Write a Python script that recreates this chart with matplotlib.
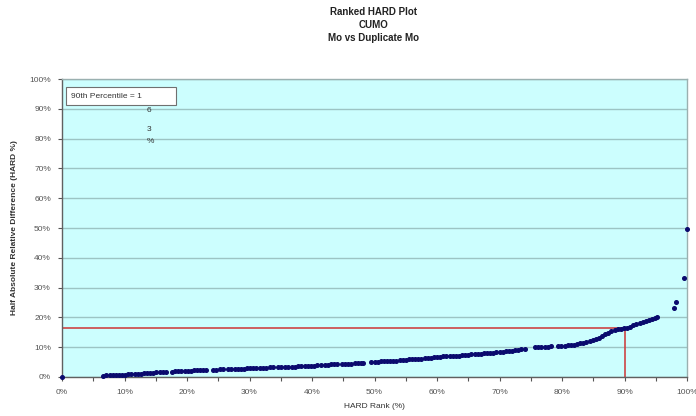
import numpy as np
import matplotlib
matplotlib.use("Agg")
import matplotlib.pyplot as plt
from matplotlib.patches import Rectangle
from matplotlib.ticker import FixedLocator, FuncFormatter

plt.rcParams['font.family'] = ['Liberation Sans', 'DejaVu Sans']

# =========================================================
# DATA
# =========================================================
TITLE = "Ranked HARD Plot\nCUMO\nMo vs Duplicate Mo"
X_LABEL = "HARD Rank (%)"
Y_LABEL = "Half Absolute Relative Difference (HARD %)"

hard_rank = [
    0.0,
    6.6, 7.1, 7.6, 8.1, 8.6, 9.1, 9.6, 10.1, 10.6, 11.1, 11.6, 12.1, 12.6, 13.1, 13.6, 14.1, 14.6,
    15.1, 15.6, 16.1, 16.6,
    17.6, 18.1, 18.6, 19.1, 19.6, 20.1, 20.6, 21.1, 21.6, 22.1, 22.6, 23.1,
    24.2, 24.7, 25.2, 25.8,
    26.6, 27.1, 27.6, 28.1, 28.6, 29.1, 29.6, 30.1, 30.6, 31.1, 31.7,
    32.2, 32.7, 33.2, 33.8,
    34.6, 35.1, 35.6, 36.2,
    36.8, 37.3, 37.8, 38.3, 38.8, 39.3, 39.8, 40.3, 40.8,
    41.5, 42.0, 42.5, 43.0, 43.5, 44.0,
    44.8, 45.3, 45.8, 46.3, 46.8, 47.3, 47.8, 48.2,
    49.5, 50.0, 50.5, 51.0, 51.5, 52.0, 52.5, 53.0, 53.5, 54.0,
    54.5, 55.0, 55.5, 56.0, 56.5, 57.0, 57.5, 58.0, 58.5, 59.0,
    59.5, 60.0, 60.5, 61.0, 61.5, 62.0, 62.5, 63.0, 63.5, 64.0,
    64.5, 65.0, 65.5, 66.0, 66.5, 67.0, 67.5, 68.0, 68.5, 69.0,
    69.5, 70.0, 70.5, 71.0, 71.5, 72.0, 72.5, 73.0, 73.5, 74.0,
    75.7, 76.2, 76.7, 77.2, 77.7, 78.2,
    79.4, 79.9, 80.4, 80.9, 81.4, 81.9, 82.4, 82.9, 83.4, 83.9,
    84.4, 84.9, 85.4, 85.9, 86.4, 86.9, 87.4, 87.9, 88.4, 88.9,
    89.4, 89.9, 90.4, 90.9, 91.4, 91.9, 92.4, 92.9, 93.4, 93.9,
    94.4, 94.9, 95.2,
    97.9, 98.2, 99.5, 100.0,
]

hard_value = [
    0.0,
    0.4, 0.5, 0.5, 0.6, 0.6, 0.7, 0.7, 0.8, 0.9, 0.9, 1.0, 1.1, 1.1, 1.2, 1.3, 1.3, 1.4,
    1.6, 1.6, 1.7, 1.7,
    1.8, 1.9, 1.9, 2.0, 2.0, 2.1, 2.1, 2.2, 2.2, 2.3, 2.3, 2.4,
    2.5, 2.5, 2.6, 2.6,
    2.7, 2.7, 2.7, 2.8, 2.8, 2.8, 2.9, 2.9, 2.9, 3.0, 3.0,
    3.1, 3.1, 3.2, 3.2,
    3.3, 3.3, 3.4, 3.4,
    3.5, 3.5, 3.6, 3.6, 3.7, 3.7, 3.8, 3.8, 3.9,
    4.0, 4.0, 4.1, 4.2, 4.2, 4.3,
    4.4, 4.4, 4.5, 4.5, 4.6, 4.6, 4.7, 4.7,
    5.0, 5.1, 5.1, 5.2, 5.3, 5.3, 5.4, 5.5, 5.5, 5.6,
    5.7, 5.8, 5.9, 6.0, 6.0, 6.1, 6.2, 6.3, 6.4, 6.5,
    6.6, 6.8, 6.8, 6.9, 6.9, 7.0, 7.1, 7.1, 7.2, 7.3,
    7.4, 7.5, 7.6, 7.6, 7.7, 7.8, 7.9, 8.0, 8.1, 8.2,
    8.3, 8.4, 8.5, 8.6, 8.7, 8.8, 9.0, 9.1, 9.3, 9.4,
    9.9, 10.0, 10.1, 10.1, 10.2, 10.3,
    10.4, 10.5, 10.5, 10.6, 10.8, 10.9, 11.1, 11.3, 11.5, 11.7,
    12.0, 12.4, 12.8, 13.2, 13.7, 14.3, 14.9, 15.4, 15.8, 16.0,
    16.1, 16.3, 16.5, 16.9, 17.4, 17.9, 18.2, 18.5, 18.8, 19.1,
    19.4, 19.7, 20.0,
    23.0, 25.1, 33.1, 49.8,
]

PCT_RANK = 90.0
PCT_VALUE = 16.3

# =========================================================
# FIGURE
# =========================================================
fig = plt.figure(figsize=(6.96, 4.16), dpi=100)
ax = fig.add_axes([0.0891, 0.0938, 0.898, 0.716])

ax.set_facecolor("#ccfefe")
ax.set_xlim(0, 100)
ax.set_ylim(0, 100)

# grid
ax.yaxis.set_major_locator(FixedLocator(np.arange(0, 101, 10)))
ax.xaxis.set_major_locator(FixedLocator(np.arange(0, 101, 10)))
ax.xaxis.set_minor_locator(FixedLocator(np.arange(5, 100, 10)))
ax.grid(axis="y", color="#9cc4c4", linewidth=1.0)
ax.set_axisbelow(True)

pct = FuncFormatter(lambda v, p: f"{int(round(v))}%")
ax.xaxis.set_major_formatter(pct)
ax.yaxis.set_major_formatter(pct)
ax.tick_params(axis="both", which="both", labelsize=6, colors="#555555",
               length=3, width=0.8, direction="out")
ax.tick_params(axis="x", pad=6)
ax.tick_params(axis="y", pad=5)

for side in ["top", "right"]:
    ax.spines[side].set_color("#9ab0b0")
    ax.spines[side].set_linewidth(1.0)
for side in ["left", "bottom"]:
    ax.spines[side].set_color("#606060")
    ax.spines[side].set_linewidth(1.0)

# 90th percentile guide lines
ax.plot([0, PCT_RANK], [PCT_VALUE, PCT_VALUE], color="#cc4444", lw=1.2, zorder=2)
ax.plot([PCT_RANK, PCT_RANK], [0, PCT_VALUE], color="#cc4444", lw=1.2, zorder=2)

# ranked points
ax.plot(hard_rank, hard_value, linestyle="none", marker="o", markersize=2.6,
        color="#0a0a6e", zorder=3, clip_on=False)

# percentile label box (text wraps like the original)
ax.add_patch(Rectangle((0.6, 91.3), 17.6, 6.0, facecolor="white",
                       edgecolor="#707070", linewidth=0.8, zorder=4))
ax.text(1.4, 94.2, "90th Percentile = 1", fontsize=6, color="#333333",
        va="center", ha="left", zorder=5)
ax.text(13.9, 89.6, "6", fontsize=6, color="#333333", ha="center", va="center")
ax.text(13.9, 83.0, "3", fontsize=6, color="#333333", ha="center", va="center")
ax.text(14.2, 79.0, "%", fontsize=6, color="#333333", ha="center", va="center")

# titles and labels
fig.text(0.537, 0.982, TITLE, ha="center", va="top", fontsize=7,
         fontweight="bold", linespacing=1.35, color="#222222")
ax.set_xlabel(X_LABEL, fontsize=6, color="#333333", labelpad=5)
ax.set_ylabel(Y_LABEL, fontsize=6, fontweight="bold", color="#333333", labelpad=8)

fig.savefig("out.png", dpi=100)
